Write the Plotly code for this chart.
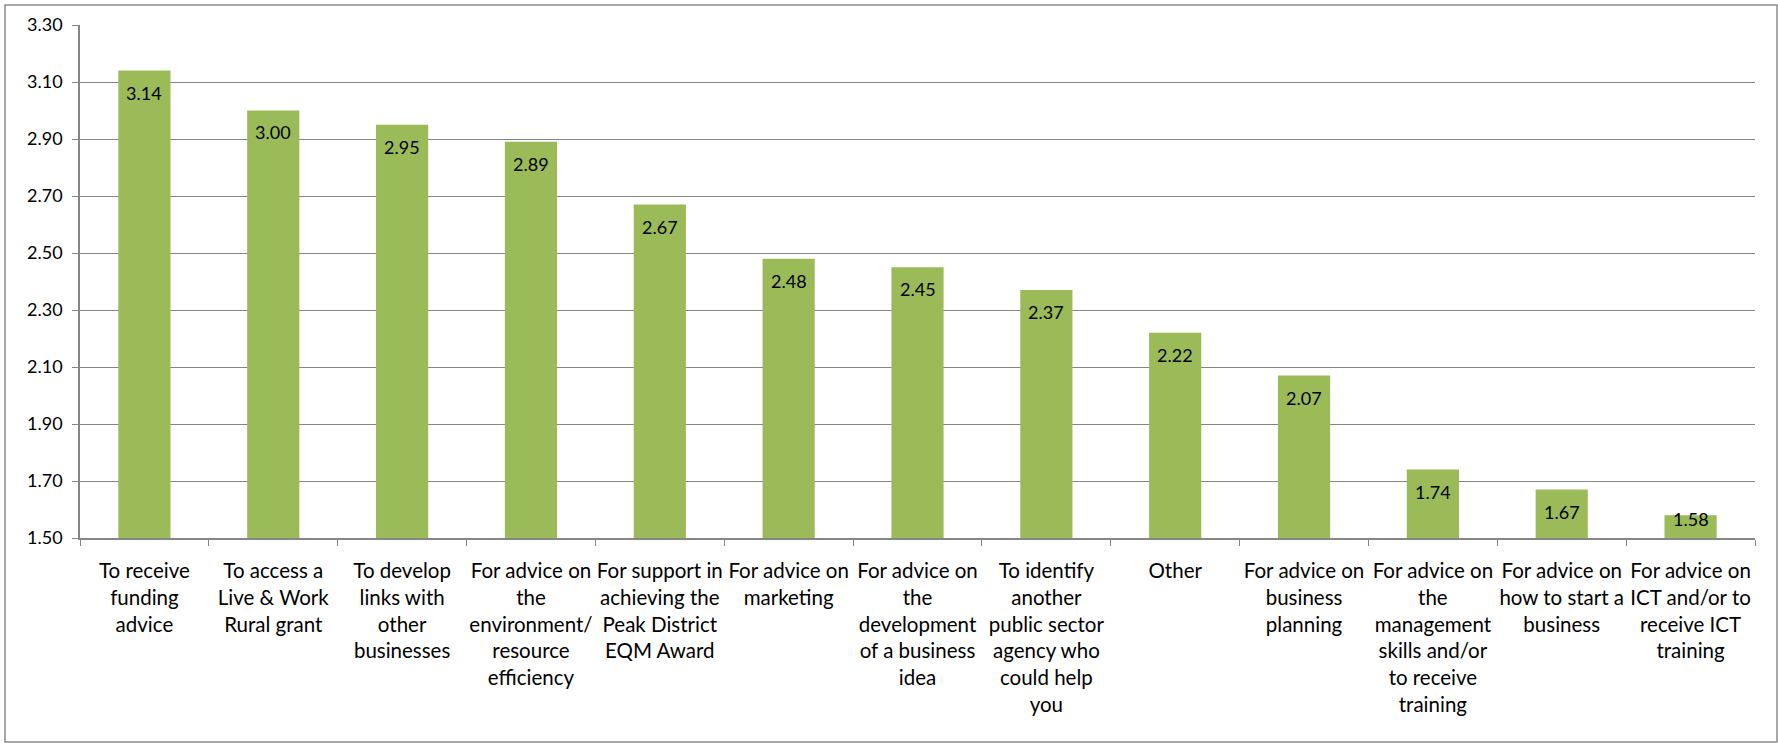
import plotly.graph_objects as go

# Reasons for contacting the service, mean rating per reason
categories = [
    "To receive<br>funding<br>advice",
    "To access a<br>Live & Work<br>Rural grant",
    "To develop<br>links with<br>other<br>businesses",
    "For advice on<br>the<br>environment/<br>resource<br>efficiency",
    "For support in<br>achieving the<br>Peak District<br>EQM Award",
    "For advice on<br>marketing",
    "For advice on<br>the<br>development<br>of a business<br>idea",
    "To identify<br>another<br>public sector<br>agency who<br>could help<br>you",
    "Other",
    "For advice on<br>business<br>planning",
    "For advice on<br>the<br>management<br>skills and/or<br>to receive<br>training",
    "For advice on<br>how to start a<br>business",
    "For advice on<br>ICT and/or to<br>receive ICT<br>training",
]
values = [3.14, 3.00, 2.95, 2.89, 2.67, 2.48, 2.45, 2.37, 2.22, 2.07, 1.74, 1.67, 1.58]

y_min, y_max, y_step = 1.50, 3.30, 0.20

FONT = "Lato, 'Open Sans', sans-serif"
GREEN = "#9BBB59"
GRID = "#868686"

fig = go.Figure()
# bars start at the axis floor, so plot heights above it
fig.add_trace(go.Bar(
    x=categories,
    y=[v - y_min for v in values],
    base=y_min,
    marker=dict(color=GREEN, line=dict(width=0)),
    hoverinfo="skip",
))

# value labels just inside the top of each bar
label_drop = 0.077
label_floor = y_min + 0.065
for cat, v in zip(categories, values):
    fig.add_annotation(
        x=cat, y=max(v - label_drop, label_floor),
        text=f"{v:.2f}", showarrow=False,
        xanchor="center", yanchor="middle",
        font=dict(family=FONT, size=18, color="#000000"),
    )

# light outer frame around the whole chart
L, R, T, B = 80, 23, 25, 205
W, H = 1778, 743
pw, ph = W - L - R, H - T - B
fig.add_shape(
    type="rect", xref="paper", yref="paper",
    x0=(5 - L) / pw, x1=(1777 - L) / pw,
    y0=-(742 - (H - B)) / ph, y1=((H - B) - 5) / ph,
    line=dict(color="#8C8C8C", width=1.5), fillcolor="rgba(0,0,0,0)",
    layer="below",
)

fig.update_layout(
    width=W, height=H,
    margin=dict(l=L, r=R, t=T, b=B, autoexpand=False),
    paper_bgcolor="white", plot_bgcolor="white",
    bargap=0.595,
    showlegend=False,
    font=dict(family=FONT, size=18, color="#000000"),
)
fig.update_xaxes(
    type="category",
    tickson="boundaries",
    ticks="outside", ticklen=6, tickcolor=GRID,
    showline=True, linecolor=GRID, linewidth=1.5,
    showgrid=False,
    tickangle=0,
    ticklabelstandoff=14,
    tickfont=dict(family=FONT, size=20.5, color="#000000"),
    fixedrange=True,
)
fig.update_yaxes(
    range=[y_min, y_max],
    tick0=y_min, dtick=y_step, tickformat=".2f",
    ticks="outside", ticklen=6, tickcolor=GRID,
    showline=True, linecolor=GRID, linewidth=1.5,
    showgrid=True, gridcolor=GRID, gridwidth=1,
    zeroline=False,
    ticklabelstandoff=6,
    tickfont=dict(family=FONT, size=18, color="#000000"),
    fixedrange=True,
)

fig.write_html("out.html")
